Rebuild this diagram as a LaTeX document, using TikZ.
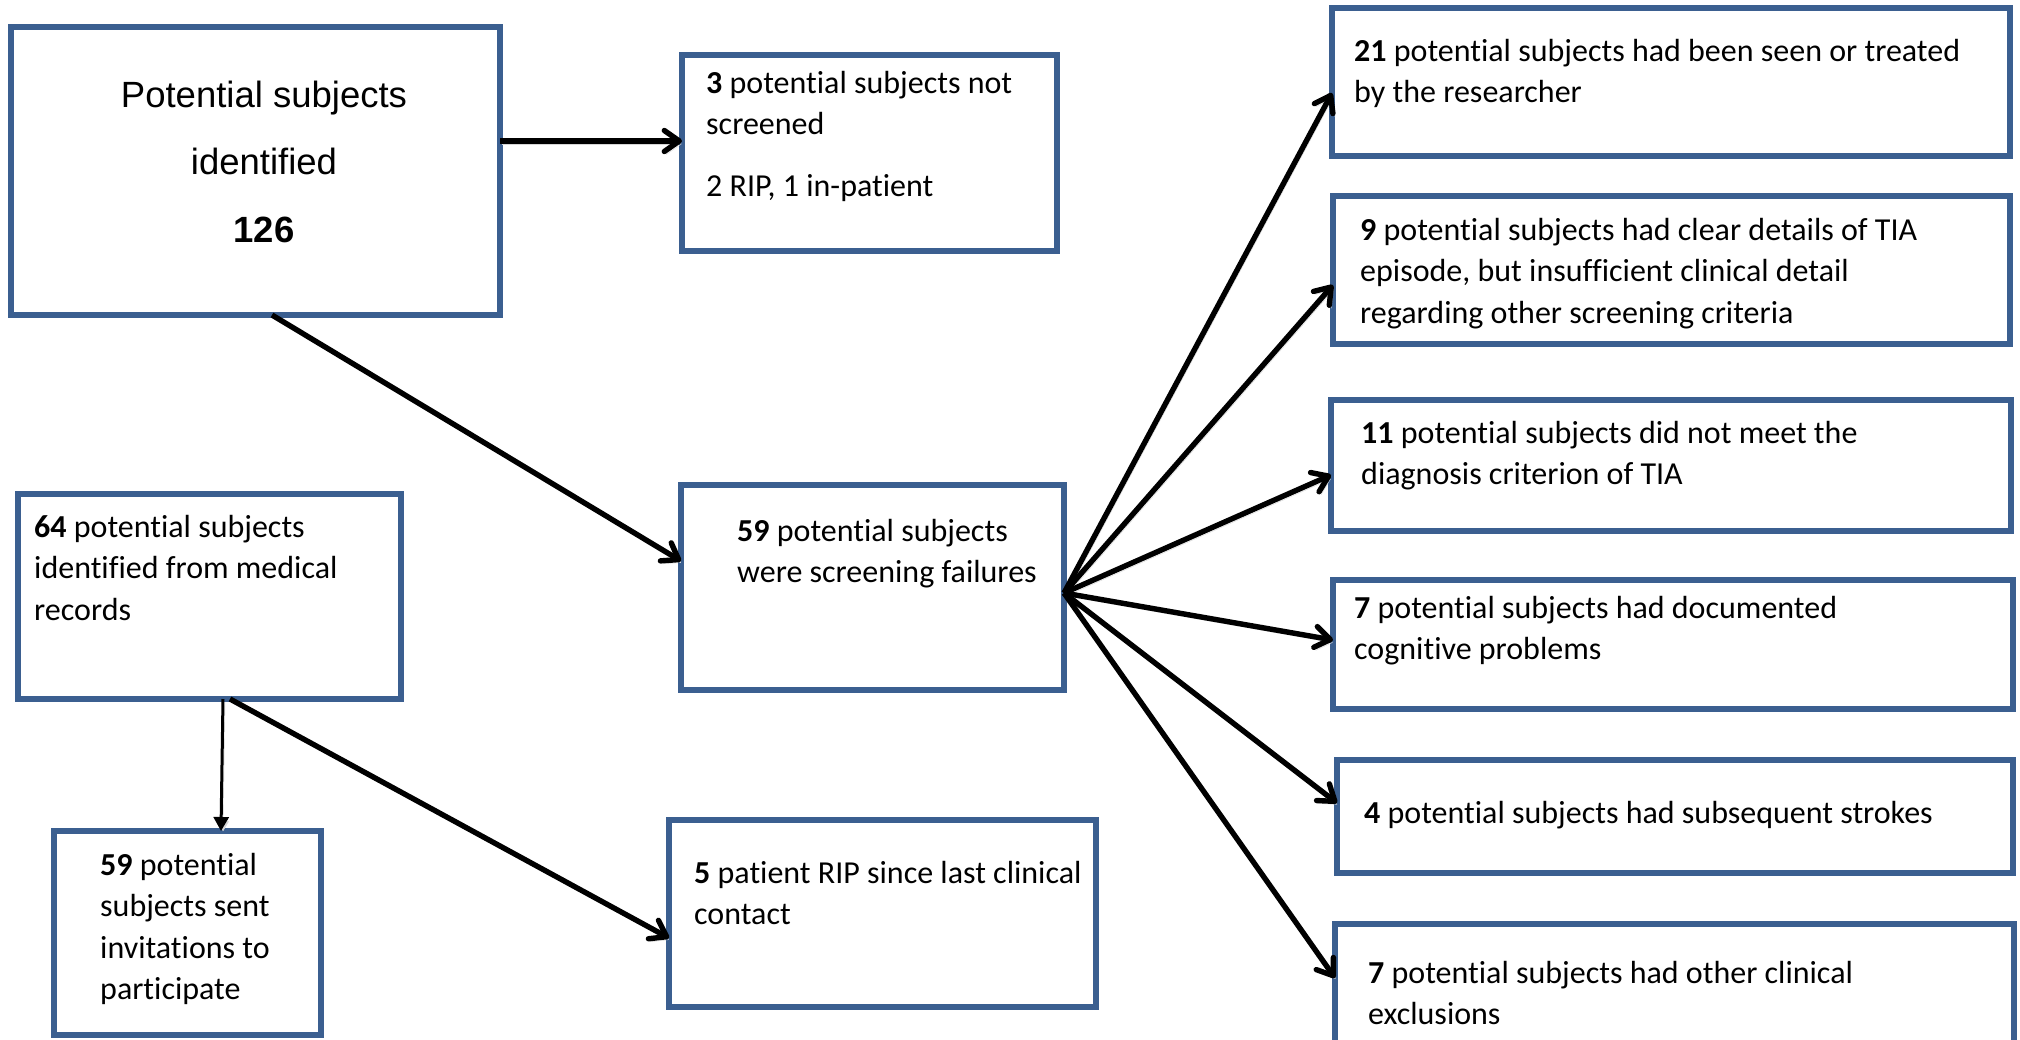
\documentclass[tikz,border=0pt]{standalone}
\usepackage{fontspec}
\setmainfont{Carlito}[Ligatures=NoCommon]
\newfontfamily\headfont{Liberation Sans}
\usetikzlibrary{arrows.meta}
\definecolor{boxblue}{HTML}{3B5F90}

% box given by its top-left and bottom-right corners (1pt = 1 unit, y downwards)
\newcommand\flowbox[5]{%
  \node[box, minimum width={#4-#2}, minimum height={#5-#3}] (#1) at (#2,#3) {};}

\begin{document}
\begin{tikzpicture}[x=1pt,y=-1pt,
  box/.style={draw=boxblue, line width=5.2pt, rectangle, inner sep=0pt,
              outer sep=0pt, anchor=north west},
  txt/.style={inner sep=0pt, anchor=base west,
              font=\fontsize{32}{41.5}\selectfont},
  shade/.style={preaction={draw=black!16, transform canvas={xshift=2pt,yshift=-3pt}}},
  flow/.style={draw=black, line width=5.4pt, shade,
               -{Straight Barb[length=15pt,width=21pt,round]}},
  thinflow/.style={draw=black, line width=3pt, shade,
               -{Triangle[length=14pt,width=15pt]}}
]
\useasboundingbox (0,0) rectangle (2020,1039);
\fill[white] (0,0) rectangle (2020,1039);
\clip (0,0) rectangle (2020,1039);

% ---- boxes ----
\flowbox{A}{11}{27}{500}{315}
\flowbox{B}{682}{55}{1057}{251}
\flowbox{C}{681}{485}{1064}{690}
\flowbox{D}{18}{494}{401}{699}
\flowbox{E}{54}{831}{321}{1035}
\flowbox{F}{669}{820}{1096}{1007}
\flowbox{R1}{1332}{8}{2010}{156}
\flowbox{R2}{1333}{196}{2010}{344}
\flowbox{R3}{1331}{400}{2011}{531}
\flowbox{R4}{1333}{580}{2013}{709}
\flowbox{R5}{1337}{760}{2013}{873}
\flowbox{R6}{1335}{924}{2014}{1070}

% ---- texts ----
\node[inner sep=0pt, anchor=base, font=\headfont\fontsize{36.5}{67.5}\selectfont]
  (At) at (264,107) {\parbox[t]{440pt}{\centering Potential subjects\\identified\\\textbf{126}}};
\node[txt] (Bt) at (706,93) {\parbox[t]{340pt}{\raggedright
  \textbf{3} potential subjects not\\screened\\[20.5pt]2 RIP, 1 in-patient}};
\node[txt] (Ct) at (737,541) {\parbox[t]{320pt}{\raggedright
  \textbf{59} potential subjects\\were screening failures}};
\node[txt] (Dt) at (34,537) {\parbox[t]{360pt}{\raggedright
  \textbf{64} potential subjects\\identified from medical\\records}};
\node[txt] (Et) at (100,875) {\parbox[t]{215pt}{\raggedright
  \textbf{59} potential\\subjects sent\\invitations to\\participate}};
\node[txt] (Ft) at (694,883) {\parbox[t]{400pt}{\raggedright
  \textbf{5} patient RIP since last clinical\\contact}};
\node[txt] (R1t) at (1354,61) {\parbox[t]{650pt}{\raggedright
  \textbf{21} potential subjects had been seen or treated\\by the researcher}};
\node[txt] (R2t) at (1360,240) {\parbox[t]{640pt}{\raggedright
  \textbf{9} potential subjects had clear details of TIA\\episode, but insufficient clinical detail\\regarding other screening criteria}};
\node[txt] (R3t) at (1361,443) {\parbox[t]{640pt}{\raggedright
  \textbf{11} potential subjects did not meet the\\diagnosis criterion of TIA}};
\node[txt] (R4t) at (1354,618) {\parbox[t]{640pt}{\raggedright
  \textbf{7} potential subjects had documented\\cognitive problems}};
\node[txt] (R5t) at (1364,823) {\parbox[t]{640pt}{\raggedright
  \textbf{4} potential subjects had subsequent strokes}};
\node[txt] (R6t) at (1368,983) {\parbox[t]{640pt}{\raggedright
  \textbf{7} potential subjects had other clinical\\exclusions}};

% ---- connectors ----
\draw[flow] (A.east |- 0,141) -- (B.west |- 0,141);
\draw[flow] (A.south -| 272,0) -- (C.west |- 0,561);
\coordinate (Cout) at (C.east |- 0,593);
\draw[flow] (Cout) -- (R1.west |- 0,93);
\draw[flow] (Cout) -- (R2.west |- 0,285);
\draw[flow] (Cout) -- (R3.west |- 0,475);
\draw[flow] (Cout) -- (R4.west |- 0,640);
\draw[flow] (Cout) -- (R5.west |- 0,803);
\draw[flow] (Cout) -- (R6.west |- 0,978);
\draw[thinflow] (D.south -| 223,0) -- (E.north -| 221,0);
\draw[flow] (D.south -| 230,0) -- (F.west |- 0,938);
\end{tikzpicture}
\end{document}
